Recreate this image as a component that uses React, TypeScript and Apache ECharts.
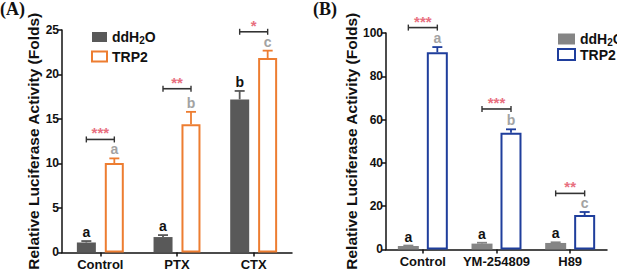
import React, { useEffect, useRef } from 'react';
import * as echarts from 'echarts';

// Panel A
const categoriesA = ['Control', 'PTX', 'CTX'];
const ddh2oA = [1.12, 1.73, 17.2];
const ddh2oErrA = [0.16, 0.22, 0.95];
const trp2A = [10.05, 14.4, 21.85];
const trp2ErrA = [0.52, 1.4, 0.83];
const lettersDdA = ['a', 'a', 'b'];
const lettersTrA = ['a', 'b', 'c'];
const bracketA = [12.7, 18.4, 24.8];
const starsA = ['***', '**', '*'];
const ticksA = { min: 0, max: 25, interval: 5 };

// Panel B
const categoriesB = ['Control', 'YM-254809', 'H89'];
const ddh2oB = [1.6, 2.7, 3.0];
const ddh2oErrB = [0.2, 0.4, 0.3];
const trp2B = [91.1, 53.9, 15.9];
const trp2ErrB = [2.4, 1.6, 1.4];
const lettersDdB = ['a', 'a', 'a'];
const lettersTrB = ['a', 'b', 'c'];
const bracketB = [102.5, 64.9, 25.9];
const starsB = ['***', '***', '**'];
const ticksB = { min: 0, max: 100, interval: 20 };

const FONT = 'Arial, "Liberation Sans", sans-serif';

function overlay(
  gi: number,
  dd: number[], ddErr: number[], tr: number[], trErr: number[],
  ddL: string[], trL: string[], br: number[], st: string[],
  off: number, ddColor: string, trColor: string
) {
  const data = dd.map((v, i) => [i, v, v + ddErr[i], tr[i], tr[i] + trErr[i], br[i]]);
  return {
    type: 'custom',
    xAxisIndex: gi,
    yAxisIndex: gi,
    z: 10,
    silent: true,
    encode: { x: 0, y: 1 },
    data,
    renderItem: (params: any, api: any) => {
      const i = api.value(0);
      const cx = api.coord([i, 0])[0];
      const yOf = (v: number) => api.coord([i, v])[1];
      const cap = 5;
      const children: any[] = [];
      const err = (x: number, v: number, top: number, color: string) => {
        children.push({ type: 'line', shape: { x1: x, y1: yOf(v), x2: x, y2: yOf(top) }, style: { stroke: color, lineWidth: 1.8 } });
        children.push({ type: 'line', shape: { x1: x - cap, y1: yOf(top), x2: x + cap, y2: yOf(top) }, style: { stroke: color, lineWidth: 1.8 } });
      };
      err(cx - off, api.value(1), api.value(2), ddColor);
      err(cx + off, api.value(3), api.value(4), trColor);
      children.push({ type: 'text', style: { text: ddL[i], x: cx - off, y: yOf(api.value(2)) - 2, fill: '#111', font: `bold 14px ${FONT}`, align: 'center', verticalAlign: 'bottom' } });
      children.push({ type: 'text', style: { text: trL[i], x: cx + off, y: yOf(api.value(4)) - 2, fill: '#a3a3a3', font: `bold 14px ${FONT}`, align: 'center', verticalAlign: 'bottom' } });
      const by = yOf(api.value(5));
      children.push({ type: 'line', shape: { x1: cx - off, y1: by, x2: cx + off, y2: by }, style: { stroke: '#333', lineWidth: 1.6 } });
      children.push({ type: 'line', shape: { x1: cx - off, y1: by - 3, x2: cx - off, y2: by + 3 }, style: { stroke: '#333', lineWidth: 1.4 } });
      children.push({ type: 'line', shape: { x1: cx + off, y1: by - 3, x2: cx + off, y2: by + 3 }, style: { stroke: '#333', lineWidth: 1.4 } });
      children.push({ type: 'text', style: { text: st[i], x: cx, y: by + 1, fill: '#e8707f', font: `bold 15px ${FONT}`, align: 'center', verticalAlign: 'bottom' } });
      return { type: 'group', children };
    },
  };
}

const legendRich = {
  n: { fontSize: 14, fontWeight: 'bold', fontFamily: FONT, color: '#111' },
  s: { fontSize: 10, fontWeight: 'bold', fontFamily: FONT, color: '#111', verticalAlign: 'bottom', padding: [7, 0, 0, 0] },
};
const legendFmt = (name: string) => (name.indexOf('ddH2O') >= 0 ? '{n|ddH}{s|2}{n|O}' : '{n|TRP2}');

function yAxis(gi: number, t: { min: number; max: number; interval: number }, gap: number) {
  return {
    type: 'value',
    gridIndex: gi,
    min: t.min,
    max: t.max,
    interval: t.interval,
    name: 'Relative Luciferase Activity (Folds)',
    nameLocation: 'middle',
    nameGap: gap,
    nameTextStyle: { fontSize: 15.5, fontWeight: 'bold', fontFamily: FONT, color: '#111' },
    axisLine: { show: true, lineStyle: { color: '#111', width: 1.5 } },
    axisTick: { show: true, length: 4, lineStyle: { color: '#111', width: 1.5 } },
    axisLabel: { fontSize: 12, fontWeight: 'bold', fontFamily: FONT, color: '#111', margin: 3 },
    splitLine: { show: false },
  };
}

function xAxis(gi: number, cats: string[]) {
  return {
    type: 'category',
    gridIndex: gi,
    data: cats,
    axisLine: { lineStyle: { color: '#111', width: 1.5 } },
    axisTick: { show: true, alignWithLabel: true, length: 4, lineStyle: { color: '#111', width: 1.5 } },
    axisLabel: { interval: 0, fontSize: 13, fontWeight: 'bold', fontFamily: FONT, color: '#111', margin: 6 },
  };
}

export default function App() {
  const ref = useRef<HTMLDivElement>(null);
  useEffect(() => {
    if (!ref.current) return;
    const chart = echarts.init(ref.current, null, { renderer: 'svg' });
    chart.setOption({
      animation: false,
      backgroundColor: '#fff',
      graphic: [
        { type: 'text', left: 0, top: 0, style: { text: '(A)', font: 'bold 18px "Times New Roman", "Liberation Serif", serif', fill: '#111' } },
        { type: 'text', left: 313, top: 0, style: { text: '(B)', font: 'bold 18px "Times New Roman", "Liberation Serif", serif', fill: '#111' } },
      ],
      legend: [
        {
          data: ['A ddH2O', 'A TRP2'], orient: 'vertical', left: 86, top: 25, itemWidth: 15, itemHeight: 10, itemGap: 4,
          icon: 'rect', formatter: legendFmt, textStyle: { rich: legendRich }, selectedMode: false,
        },
        {
          data: ['B ddH2O', 'B TRP2'], orient: 'vertical', left: 552, top: 27, itemWidth: 17, itemHeight: 11, itemGap: 0,
          icon: 'rect', formatter: legendFmt, textStyle: { rich: legendRich }, selectedMode: false,
        },
      ],
      grid: [
        { left: 62, right: 325, top: 30, bottom: 19 },
        { left: 386, right: 10, top: 33, bottom: 19 },
      ],
      xAxis: [xAxis(0, categoriesA), xAxis(1, categoriesB)],
      yAxis: [yAxis(0, ticksA, 20), yAxis(1, ticksB, 27)],
      series: [
        { name: 'A ddH2O', type: 'bar', xAxisIndex: 0, yAxisIndex: 0, data: ddh2oA, barWidth: 19, barGap: '47%', itemStyle: { color: '#595959' } },
        { name: 'A TRP2', type: 'bar', xAxisIndex: 0, yAxisIndex: 0, data: trp2A, barWidth: 19, barGap: '47%', itemStyle: { color: '#fff', borderColor: '#ED7D31', borderWidth: 2 } },
        { name: 'B ddH2O', type: 'bar', xAxisIndex: 1, yAxisIndex: 1, data: ddh2oB, barWidth: 21, barGap: '38%', itemStyle: { color: '#858585' } },
        { name: 'B TRP2', type: 'bar', xAxisIndex: 1, yAxisIndex: 1, data: trp2B, barWidth: 21, barGap: '38%', itemStyle: { color: '#fff', borderColor: '#1F3E9C', borderWidth: 2 } },
        overlay(0, ddh2oA, ddh2oErrA, trp2A, trp2ErrA, lettersDdA, lettersTrA, bracketA, starsA, 14, '#595959', '#ED7D31'),
        overlay(1, ddh2oB, ddh2oErrB, trp2B, trp2ErrB, lettersDdB, lettersTrB, bracketB, starsB, 14.5, '#858585', '#1F3E9C'),
      ],
    });
    return () => chart.dispose();
  }, []);
  return <div ref={ref} style={{ position: 'absolute', left: 0, top: 0, width: 617, height: 272 }} />;
}
